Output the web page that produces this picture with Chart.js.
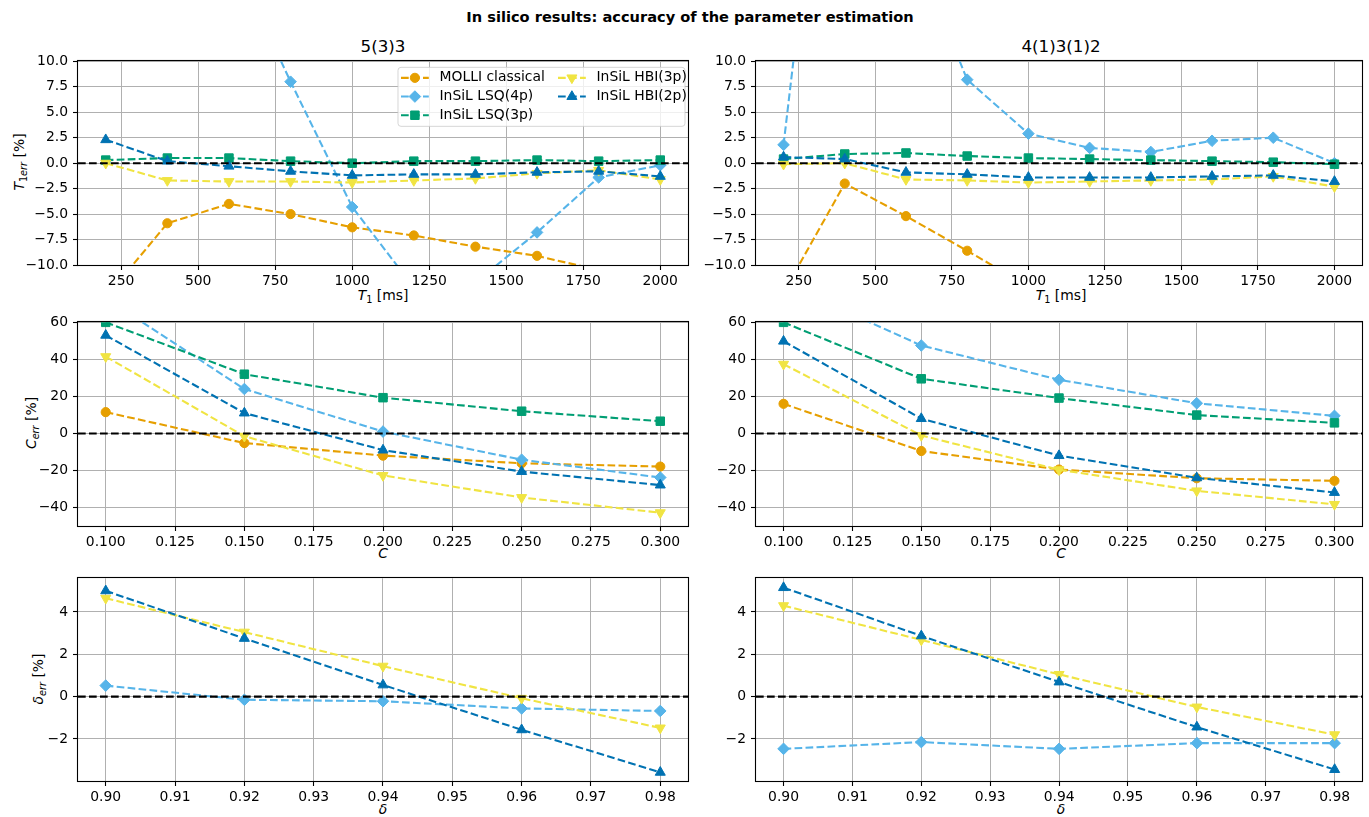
<!DOCTYPE html>
<html><head><meta charset="utf-8">
<script src="https://cdn.jsdelivr.net/npm/chart.js@4.4.1/dist/chart.umd.min.js"></script>
<style>
html,body{margin:0;padding:0;background:#fff;overflow:hidden;width:1369px;height:817px;position:relative;}
canvas{position:absolute;}
.t{position:absolute;white-space:nowrap;font-family:'DejaVu Sans',sans-serif;color:#000;transform:translate(-50%,-50%);line-height:1;}
.rot{transform:translate(-50%,-50%) rotate(-90deg);}
.sub{font-size:70%;position:relative;top:0.3em;}
</style></head><body>
<div class="t" style="left:690px;top:17px;font-size:14.6px;font-weight:bold">In silico results: accuracy of the parameter estimation</div>
<div class="t" style="left:383px;top:46px;font-size:16.7px">5(3)3</div>
<div class="t" style="left:1061px;top:46px;font-size:16.7px">4(1)3(1)2</div>
<div class="t rot" style="left:20px;top:162px;font-size:13.9px"><i>T</i><span class="sub">1<i>err</i></span> [%]</div>
<div class="t rot" style="left:32px;top:423px;font-size:13.9px"><i>C</i><span class="sub"><i>err</i></span> [%]</div>
<div class="t rot" style="left:39px;top:679px;font-size:13.9px"><i>δ</i><span class="sub"><i>err</i></span> [%]</div>
<div class="t" style="left:383px;top:296px;font-size:13.9px"><i>T</i><span class="sub">1</span> [ms]</div>
<div class="t" style="left:1061px;top:296px;font-size:13.9px"><i>T</i><span class="sub">1</span> [ms]</div>
<div class="t" style="left:383px;top:554px;font-size:13.9px"><i>C</i></div>
<div class="t" style="left:1061px;top:554px;font-size:13.9px"><i>C</i></div>
<div class="t" style="left:383px;top:810px;font-size:13.9px"><i>δ</i></div>
<div class="t" style="left:1061px;top:810px;font-size:13.9px"><i>δ</i></div>
<script>
// ---------------- data ----------------
const seriesLabels = ['MOLLI classical', 'InSiL LSQ(4p)', 'InSiL LSQ(3p)', 'InSiL HBI(3p)', 'InSiL HBI(2p)'];

const T1 = [200, 400, 600, 800, 1000, 1200, 1400, 1600, 1800, 2000];
// 5(3)3
const molliT1_533 = [-13.2, -5.9, -4.0, -5.0, -6.3, -7.1, -8.2, -9.1, -10.5, -11.6];
const lsq4T1_533  = [60, 40, 21, 8.0, -4.3, -12.2, -11.7, -6.8, -1.4, -0.2];
const lsq3T1_533  = [0.3, 0.5, 0.5, 0.2, 0.0, 0.2, 0.2, 0.3, 0.2, 0.3];
const hbi3T1_533  = [0.0, -1.7, -1.8, -1.8, -1.9, -1.7, -1.5, -1.0, -0.7, -1.6];
const hbi2T1_533  = [2.3, 0.2, -0.3, -0.8, -1.2, -1.1, -1.1, -0.9, -0.8, -1.3];
// 4(1)3(1)2
const molliT1_41312 = [-12.7, -2.0, -5.2, -8.6, -12.1, -13.5, -14.5, -15.5, -16.5, -17.5];
const lsq4T1_41312  = [1.8, 53, 23, 8.2, 2.9, 1.5, 1.1, 2.2, 2.5, 0.0];
const lsq3T1_41312  = [0.4, 0.9, 1.0, 0.7, 0.5, 0.4, 0.3, 0.2, 0.1, -0.1];
const hbi3T1_41312  = [-0.1, 0.0, -1.6, -1.7, -1.9, -1.8, -1.7, -1.6, -1.3, -2.3];
const hbi2T1_41312  = [0.6, 0.4, -0.9, -1.1, -1.4, -1.4, -1.4, -1.3, -1.2, -1.8];

const C = [0.10, 0.15, 0.20, 0.25, 0.30];
const molliC_533 = [11.5, -5.2, -12.0, -16.1, -17.9];
const lsq4C_533  = [73, 24, 1.0, -14.2, -23.8];
const lsq3C_533  = [60, 32, 19.3, 12.0, 6.6];
const hbi3C_533  = [41.5, -1.5, -22.7, -34.6, -42.8];
const hbi2C_533  = [53, 11, -9.0, -20.6, -27.9];
const molliC_41312 = [16, -9.5, -19.5, -24.2, -25.6];
const lsq4C_41312  = [81, 47.5, 29, 16.3, 9.5];
const lsq3C_41312  = [60, 29.5, 19.1, 9.9, 5.7];
const hbi3C_41312  = [37.4, -1.1, -19.6, -31.0, -38.3];
const hbi2C_41312  = [49.8, 8.0, -12.0, -24.0, -31.9];

const DELTA = [0.90, 0.92, 0.94, 0.96, 0.98];
const lsq4D_533 = [0.52, -0.15, -0.22, -0.56, -0.68];
const hbi3D_533 = [4.65, 3.05, 1.44, -0.08, -1.48];
const hbi2D_533 = [5.0, 2.75, 0.55, -1.57, -3.58];
const lsq4D_41312 = [-2.47, -2.15, -2.47, -2.2, -2.2];
const hbi3D_41312 = [4.3, 2.68, 1.05, -0.49, -1.8];
const hbi2D_41312 = [5.15, 2.87, 0.69, -1.44, -3.45];

// tick labels
const t1Ticks = [250, 500, 750, 1000, 1250, 1500, 1750, 2000];
const t1errTicks = [-10, -7.5, -5, -2.5, 0, 2.5, 5, 7.5, 10];
const cTicks = [0.1, 0.125, 0.15, 0.175, 0.2, 0.225, 0.25, 0.275, 0.3];
const cerrTicks = [-40, -20, 0, 20, 40, 60];
const dTicks = [0.90, 0.91, 0.92, 0.93, 0.94, 0.95, 0.96, 0.97, 0.98];
const derrTicks = [-2, 0, 2, 4];

// ---------------- styles ----------------
Chart.defaults.font.family = "'DejaVu Sans', sans-serif";
const STY = [
  {color: '#E69F00', ps: 'circle', rot: 0, r: 4.6},
  {color: '#56B4E9', ps: 'rectRot', rot: 0, r: 5.8},
  {color: '#009E73', ps: 'rect', rot: 0, r: 6.0},
  {color: '#F0E442', ps: 'triangle', rot: 180, r: 5.8},
  {color: '#0072B2', ps: 'triangle', rot: 0, r: 5.8}
];
const DASH = [7.7, 3.3];
const LW = 2.08;

function mkDs(si, xs, ys) {
  const s = STY[si];
  return {
    label: seriesLabels[si],
    data: xs.map((x, i) => ({x: x, y: ys[i]})),
    borderColor: s.color, backgroundColor: s.color,
    borderWidth: LW, borderDash: DASH, tension: 0, fill: false,
    pointStyle: s.ps, pointRotation: s.rot, pointRadius: s.r,
    pointBackgroundColor: s.color, pointBorderColor: s.color, pointBorderWidth: 1,
    order: 10 - si, _si: si
  };
}

function fmt(d) { return v => (v < -1e-9 ? '\u2212' : '') + Math.abs(v).toFixed(d); }

function drawMarker(ctx, s, x, y) {
  const r = s.r;
  ctx.beginPath();
  if (s.ps === 'circle') ctx.arc(x, y, r, 0, Math.PI * 2);
  else if (s.ps === 'rect') { const h = r * Math.SQRT1_2; ctx.rect(x - h, y - h, 2 * h, 2 * h); }
  else if (s.ps === 'rectRot') { ctx.moveTo(x, y - r); ctx.lineTo(x + r, y); ctx.lineTo(x, y + r); ctx.lineTo(x - r, y); ctx.closePath(); }
  else {
    let a = s.rot * Math.PI / 180;
    ctx.moveTo(x + Math.sin(a) * r, y - Math.cos(a) * r);
    a += 2 * Math.PI / 3; ctx.lineTo(x + Math.sin(a) * r, y - Math.cos(a) * r);
    a += 2 * Math.PI / 3; ctx.lineTo(x + Math.sin(a) * r, y - Math.cos(a) * r);
    ctx.closePath();
  }
  ctx.fillStyle = s.color; ctx.strokeStyle = s.color; ctx.lineWidth = 1;
  ctx.fill(); ctx.stroke();
}

const mplPlugin = {
  id: 'mpl',
  afterDatasetsDraw(chart) {
    const ctx = chart.ctx, a = chart.chartArea, y = chart.scales.y.getPixelForValue(0);
    ctx.save();
    ctx.beginPath(); ctx.rect(a.left, a.top, a.right - a.left, a.bottom - a.top); ctx.clip();
    ctx.setLineDash(DASH); ctx.strokeStyle = '#000'; ctx.lineWidth = LW;
    ctx.beginPath(); ctx.moveTo(a.left, y); ctx.lineTo(a.right, y); ctx.stroke();
    ctx.restore();
  },
  afterDraw(chart, args, opts) {
    const ctx = chart.ctx, a = chart.chartArea;
    ctx.save();
    ctx.strokeStyle = '#000'; ctx.lineWidth = 1.1; ctx.setLineDash([]);
    ctx.strokeRect(Math.round(a.left) - 0.5, Math.round(a.top) - 0.5, Math.round(a.right - a.left) + 1, Math.round(a.bottom - a.top) + 1);
    if (opts && opts.show) {
      const bw = 287, bh = 59, x0 = a.right - 3 - bw, y0 = a.top + 6, rr = 3;
      ctx.beginPath();
      ctx.moveTo(x0 + rr, y0); ctx.lineTo(x0 + bw - rr, y0); ctx.quadraticCurveTo(x0 + bw, y0, x0 + bw, y0 + rr);
      ctx.lineTo(x0 + bw, y0 + bh - rr); ctx.quadraticCurveTo(x0 + bw, y0 + bh, x0 + bw - rr, y0 + bh);
      ctx.lineTo(x0 + rr, y0 + bh); ctx.quadraticCurveTo(x0, y0 + bh, x0, y0 + bh - rr);
      ctx.lineTo(x0, y0 + rr); ctx.quadraticCurveTo(x0, y0, x0 + rr, y0); ctx.closePath();
      ctx.fillStyle = 'rgba(255,255,255,0.8)'; ctx.fill();
      ctx.strokeStyle = 'rgba(204,204,204,0.8)'; ctx.lineWidth = 1; ctx.stroke();
      ctx.font = "13.9px 'DejaVu Sans'"; ctx.textBaseline = 'middle'; ctx.textAlign = 'left';
      const dss = chart.data.datasets;
      const colX = [x0 + 3, x0 + 160];
      dss.forEach((d, i) => {
        const col = i < 3 ? 0 : 1, row = i < 3 ? i : i - 3;
        const hx = colX[col], yy = y0 + 10.5 + row * 18.7, s = STY[d._si];
        ctx.save();
        ctx.setLineDash(DASH); ctx.strokeStyle = s.color; ctx.lineWidth = LW;
        ctx.beginPath(); ctx.moveTo(hx, yy); ctx.lineTo(hx + 27.8, yy); ctx.stroke();
        ctx.setLineDash([]);
        drawMarker(ctx, s, hx + 13.9, yy);
        ctx.restore();
        ctx.fillStyle = '#000';
        ctx.fillText(d.label, hx + 38.5, yy);
      });
    }
    ctx.restore();
  }
};

function makeChart(pos, datasets, xr, yr, xTicks, yTicks, xf, yf, legend) {
  const cv = document.createElement('canvas');
  cv.width = pos.w; cv.height = pos.h;
  cv.style.left = pos.l + 'px'; cv.style.top = pos.t + 'px';
  cv.style.width = pos.w + 'px'; cv.style.height = pos.h + 'px';
  document.body.appendChild(cv);
  const tickFont = {size: 13.9, family: "'DejaVu Sans'"};
  new Chart(cv.getContext('2d'), {
    type: 'line',
    data: {datasets: datasets},
    plugins: [mplPlugin],
    options: {
      responsive: false, animation: false, events: [],
      devicePixelRatio: 1,
      layout: {padding: {left: pos.pl, right: pos.pr, top: pos.pt, bottom: 0}},
      plugins: {legend: {display: false}, tooltip: {enabled: false}, mpl: {show: !!legend}},
      scales: {
        x: {
          type: 'linear', min: xr[0], max: xr[1],
          afterBuildTicks: s => { s.ticks = xTicks.map(v => ({value: v})); },
          afterFit: s => { s.height = 30; },
          ticks: {callback: xf, font: tickFont, color: '#000', padding: 3, maxRotation: 0, autoSkip: false},
          grid: {color: '#b0b0b0', lineWidth: 1, tickLength: 5, tickColor: '#000', tickWidth: 1.1},
          border: {display: false}
        },
        y: {
          type: 'linear', min: yr[0], max: yr[1],
          afterBuildTicks: s => { s.ticks = yTicks.map(v => ({value: v})); },
          afterFit: s => { s.width = 66; },
          ticks: {callback: yf, font: tickFont, color: '#000', padding: 5, autoSkip: false},
          grid: {color: '#b0b0b0', lineWidth: 1, tickLength: 5, tickColor: '#000', tickWidth: 1.1},
          border: {display: false}
        }
      }
    }
  });
}

const colL = {l: 0, w: 700, pl: 12, pr: 12};
const colR = {l: 690, w: 679, pl: 0, pr: 3};
const row1 = {t: 48, h: 247, pt: 12};
const row2 = {t: 309, h: 247, pt: 12};
const row3 = {t: 565, h: 246, pt: 12};
const P = (c, r) => Object.assign({}, c, r);

makeChart(P(colL, row1), [
  mkDs(0, T1, molliT1_533), mkDs(1, T1, lsq4T1_533), mkDs(2, T1, lsq3T1_533), mkDs(3, T1, hbi3T1_533), mkDs(4, T1, hbi2T1_533)
], [110, 2090], [-10, 10], t1Ticks, t1errTicks, fmt(0), fmt(1), true);
makeChart(P(colR, row1), [
  mkDs(0, T1, molliT1_41312), mkDs(1, T1, lsq4T1_41312), mkDs(2, T1, lsq3T1_41312), mkDs(3, T1, hbi3T1_41312), mkDs(4, T1, hbi2T1_41312)
], [110, 2090], [-10, 10], t1Ticks, t1errTicks, fmt(0), fmt(1), false);

makeChart(P(colL, row2), [
  mkDs(0, C, molliC_533), mkDs(1, C, lsq4C_533), mkDs(2, C, lsq3C_533), mkDs(3, C, hbi3C_533), mkDs(4, C, hbi2C_533)
], [0.09, 0.31], [-50, 60], cTicks, cerrTicks, fmt(3), fmt(0), false);
makeChart(P(colR, row2), [
  mkDs(0, C, molliC_41312), mkDs(1, C, lsq4C_41312), mkDs(2, C, lsq3C_41312), mkDs(3, C, hbi3C_41312), mkDs(4, C, hbi2C_41312)
], [0.09, 0.31], [-50, 60], cTicks, cerrTicks, fmt(3), fmt(0), false);

makeChart(P(colL, row3), [
  mkDs(1, DELTA, lsq4D_533), mkDs(3, DELTA, hbi3D_533), mkDs(4, DELTA, hbi2D_533)
], [0.896, 0.984], [-3.99, 5.59], dTicks, derrTicks, fmt(2), fmt(0), false);
makeChart(P(colR, row3), [
  mkDs(1, DELTA, lsq4D_41312), mkDs(3, DELTA, hbi3D_41312), mkDs(4, DELTA, hbi2D_41312)
], [0.896, 0.984], [-3.99, 5.59], dTicks, derrTicks, fmt(2), fmt(0), false);
</script>
</body></html>
